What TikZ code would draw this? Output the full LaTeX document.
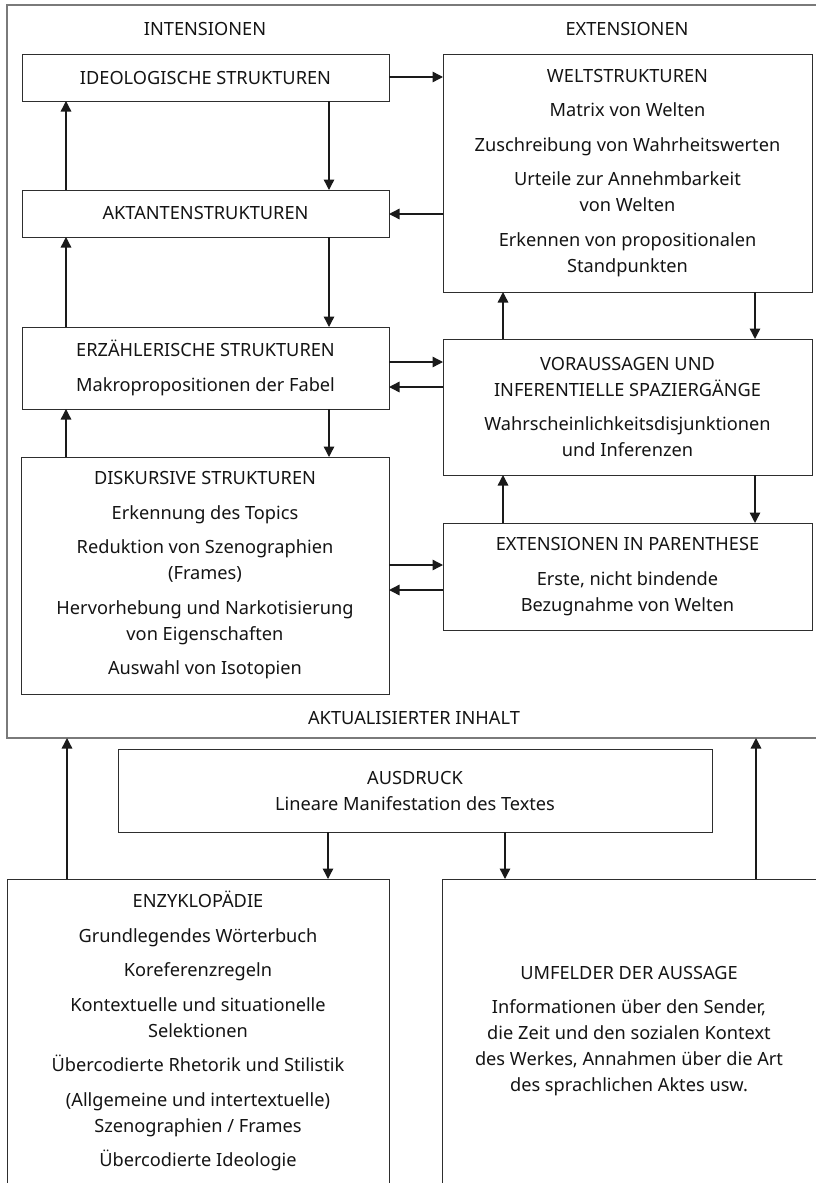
\documentclass[tikz,border=0pt]{standalone}
\usepackage{fontspec}
\setmainfont{Noto Sans}
\usetikzlibrary{arrows.meta}
\definecolor{txt}{HTML}{141414}
\definecolor{boxc}{HTML}{2E2E2E}
\definecolor{framec}{HTML}{7A7A7A}
\definecolor{arrc}{HTML}{1A1A1A}
\newcommand{\mainfs}{\fontsize{18.2pt}{26pt}\selectfont}
\newcommand{\pgap}{\\[8.5pt]}
\tikzset{
  box/.style={draw=boxc, line width=1pt, inner sep=0pt, outer sep=0pt,
    anchor=north west, align=center, text=txt, font=\mainfs},
  openbox/.style={box, draw=none},
  edge/.style={draw=boxc, line width=1pt},
  frameline/.style={draw=framec, line width=1.4pt},
  arr/.style={draw=arrc, line width=1.4pt, -{Triangle[length=10.5pt,width=10.5pt]}},
  lbl/.style={text=txt, font=\mainfs, inner sep=0pt}
}
\begin{document}
\begin{tikzpicture}[x=1pt,y=-1pt]
\useasboundingbox (0,0) rectangle (816,1183);

% outer frame (actualised content), open on the right
\node[openbox, minimum width=809pt, minimum height=733pt] (inhalt) at (7,5) {};
\draw[frameline] (inhalt.north east) -- (inhalt.north west) -- (inhalt.south west) -- (inhalt.south east);
\node[lbl] (intens) at (205,29) {INTENSIONEN};
\node[lbl] (extens) at (627,29) {EXTENSIONEN};
\node[lbl] (aktinh) at (414,718) {AKTUALISIERTER INHALT};

% intensional column
\node[box, minimum width=367pt, minimum height=47pt] (ideo) at (22,54) {IDEOLOGISCHE STRUKTUREN};
\node[box, minimum width=367pt, minimum height=47pt] (akt) at (22,190) {AKTANTENSTRUKTUREN};
\node[box, minimum width=367pt, minimum height=82pt] (erz) at (22,327)
  {ERZÄHLERISCHE STRUKTUREN\pgap Makropropositionen der Fabel};
\node[box, minimum width=368pt, minimum height=237pt] (disk) at (21,457)
  {DISKURSIVE STRUKTUREN\pgap Erkennung des Topics\pgap
   Reduktion von Szenographien\\(Frames)\pgap
   Hervorhebung und Narkotisierung\\von Eigenschaften\pgap
   Auswahl von Isotopien};

% extensional column
\node[box, minimum width=369pt, minimum height=238pt] (welt) at (443,54)
  {WELTSTRUKTUREN\pgap Matrix von Welten\pgap Zuschreibung von Wahrheitswerten\pgap
   Urteile zur Annehmbarkeit\\von Welten\pgap Erkennen von propositionalen\\Standpunkten};
\node[box, minimum width=369pt, minimum height=136pt] (vor) at (443,339)
  {VORAUSSAGEN UND\\INFERENTIELLE SPAZIERGÄNGE\pgap
   Wahrscheinlichkeitsdisjunktionen\\und Inferenzen};
\node[box, minimum width=369pt, minimum height=107pt] (extp) at (443,523)
  {EXTENSIONEN IN PARENTHESE\pgap Erste, nicht bindende\\Bezugnahme von Welten};

% expression and the two sources below
\node[box, minimum width=594pt, minimum height=83pt] (ausd) at (118,749)
  {AUSDRUCK\\Lineare Manifestation des Textes};
\node[openbox, minimum width=382pt, minimum height=304pt] (enz) at (7,879)
  {ENZYKLOPÄDIE\pgap Grundlegendes Wörterbuch\pgap Koreferenzregeln\pgap
   Kontextuelle und situationelle\\Selektionen\pgap
   Übercodierte Rhetorik und Stilistik\pgap
   (Allgemeine und intertextuelle)\\Szenographien / Frames\pgap
   Übercodierte Ideologie};
\draw[edge] (enz.south west) -- (enz.north west) -- (enz.north east) -- (enz.south east);
\node[openbox, minimum width=374pt, minimum height=304pt] (umf) at (442,879)
  {UMFELDER DER AUSSAGE\pgap Informationen über den Sender,\\
   die Zeit und den sozialen Kontext\\des Werkes, Annahmen über die Art\\
   des sprachlichen Aktes usw.};
\draw[edge] (umf.south west) -- (umf.north west) -- (umf.north east);

% columns used by the vertical connectors
\coordinate (cL) at (66,0);
\coordinate (cR) at (329,0);
\coordinate (rL) at (503,0);
\coordinate (rR) at (755,0);
\coordinate (bL) at (67,0);
\coordinate (bM1) at (328,0);
\coordinate (bM2) at (505,0);
\coordinate (bR) at (756,0);
% rows used by the horizontal connectors
\coordinate (h1) at (0,77);
\coordinate (h2) at (0,214);
\coordinate (h3) at (0,362);
\coordinate (h4) at (0,387);
\coordinate (h5) at (0,565);
\coordinate (h6) at (0,590);

% intensional column connectors
\draw[arr] (akt.north -| cL) -- (ideo.south -| cL);
\draw[arr] (ideo.south -| cR) -- (akt.north -| cR);
\draw[arr] (erz.north -| cL) -- (akt.south -| cL);
\draw[arr] (akt.south -| cR) -- (erz.north -| cR);
\draw[arr] (disk.north -| cL) -- (erz.south -| cL);
\draw[arr] (erz.south -| cR) -- (disk.north -| cR);

% extensional column connectors
\draw[arr] (vor.north -| rL) -- (welt.south -| rL);
\draw[arr] (welt.south -| rR) -- (vor.north -| rR);
\draw[arr] (extp.north -| rL) -- (vor.south -| rL);
\draw[arr] (vor.south -| rR) -- (extp.north -| rR);

% between the columns
\draw[arr] (ideo.east |- h1) -- (welt.west |- h1);
\draw[arr] (welt.west |- h2) -- (akt.east |- h2);
\draw[arr] (erz.east |- h3) -- (vor.west |- h3);
\draw[arr] (vor.west |- h4) -- (erz.east |- h4);
\draw[arr] (disk.east |- h5) -- (extp.west |- h5);
\draw[arr] (extp.west |- h6) -- (disk.east |- h6);

% lower part
\draw[arr] (ausd.south -| bM1) -- (enz.north -| bM1);
\draw[arr] (ausd.south -| bM2) -- (umf.north -| bM2);
\draw[arr] (enz.north -| bL) -- (inhalt.south -| bL);
\draw[arr] (umf.north -| bR) -- (inhalt.south -| bR);
\end{tikzpicture}
\end{document}
